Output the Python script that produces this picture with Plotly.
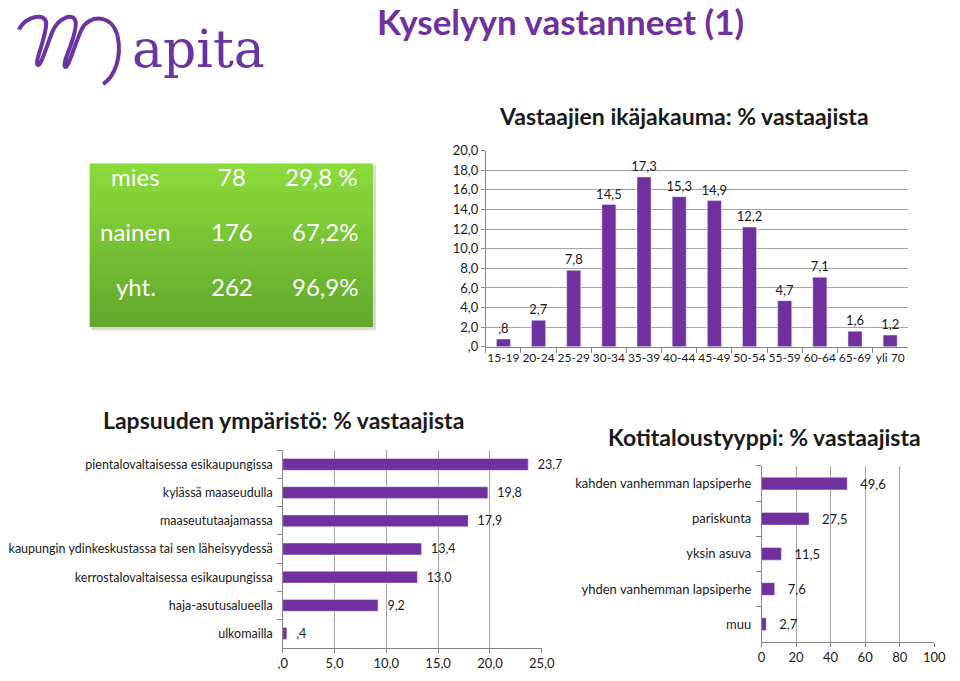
import plotly.graph_objects as go

W, H = 960, 681
def px(x): return x / W
def py(y): return 1 - y / H

# ---------------- data ----------------
age_groups = ["15-19", "20-24", "25-29", "30-34", "35-39", "40-44", "45-49",
              "50-54", "55-59", "60-64", "65-69", "yli 70"]
age_pct = [0.8, 2.7, 7.8, 14.5, 17.3, 15.3, 14.9, 12.2, 4.7, 7.1, 1.6, 1.2]
age_ticks = [0, 2, 4, 6, 8, 10, 12, 14, 16, 18, 20]

childhood_env = ["pientalovaltaisessa esikaupungissa", "kylässä maaseudulla",
                 "maaseututaajamassa", "kaupungin ydinkeskustassa tai sen läheisyydessä",
                 "kerrostalovaltaisessa esikaupungissa", "haja-asutusalueella", "ulkomailla"]
childhood_pct = [23.7, 19.8, 17.9, 13.4, 13.0, 9.2, 0.4]
childhood_ticks = [0, 5, 10, 15, 20, 25]

household_type = ["kahden vanhemman lapsiperhe", "pariskunta", "yksin asuva",
                  "yhden vanhemman lapsiperhe", "muu"]
household_pct = [49.6, 27.5, 11.5, 7.6, 2.7]
household_ticks = [0, 20, 40, 60, 80, 100]

gender_rows = ["mies", "nainen", "yht."]
gender_counts = ["78", "176", "262"]
gender_share = ["29,8 %", "67,2%", "96,9%"]


def fi(v):
    s = f"{v:.1f}".replace(".", ",")
    if s.startswith("0"):
        s = s[1:]
    return s


PURPLE = "#7030A0"
GRID = "#A6A6A6"
AXIS = "#868686"
TXT = "#1a1a1a"
FONT = "Lato"

fig = go.Figure()

# green box (gradient) on its own hidden axes
fig.add_trace(go.Scatter(
    x=[0, 1, 1, 0, 0], y=[0, 0, 1, 1, 0], mode="lines", fill="toself",
    line=dict(width=0),
    fillgradient=dict(type="vertical", colorscale=[[0, "#63A72C"], [1, "#8CDC3C"]]),
    xaxis="x4", yaxis="y4", hoverinfo="skip", showlegend=False))

# age chart
fig.add_trace(go.Bar(
    x=age_groups, y=age_pct, marker_color=PURPLE, width=0.4,
    text=[fi(v) for v in age_pct], textposition="outside", constraintext="none",
    textfont=dict(family=FONT, size=13, color=TXT), cliponaxis=False,
    xaxis="x", yaxis="y", showlegend=False))

# childhood environment chart
fig.add_trace(go.Bar(
    y=childhood_env, x=childhood_pct, orientation="h", marker_color=PURPLE, width=0.42,
    text=[fi(v) for v in childhood_pct], texttemplate="\u00a0\u00a0%{text}",
    textposition="outside", constraintext="none",
    textfont=dict(family=FONT, size=12.5, color=TXT),
    cliponaxis=False, xaxis="x2", yaxis="y2", showlegend=False))

# household chart
fig.add_trace(go.Bar(
    y=household_type, x=household_pct, orientation="h", marker_color=PURPLE, width=0.36,
    text=[fi(v) for v in household_pct], texttemplate="\u00a0\u00a0\u00a0%{text}",
    textposition="outside", constraintext="none",
    textfont=dict(family=FONT, size=13, color=TXT),
    cliponaxis=False, xaxis="x3", yaxis="y3", showlegend=False))

tickfont = dict(family=FONT, size=13, color=TXT)

layout = dict(
    width=W, height=H, margin=dict(l=0, r=0, t=0, b=0),
    paper_bgcolor="white", plot_bgcolor="rgba(0,0,0,0)",
    font=dict(family=FONT, color=TXT),
    # top chart
    xaxis=dict(domain=[px(490), px(920)], anchor="y", type="category",
               showline=True, linecolor=AXIS, linewidth=1, ticks="outside",
               tickson="boundaries", ticklen=5, tickcolor=AXIS, showgrid=False,
               tickangle=0, tickfont=dict(family=FONT, size=12, color=TXT),
               fixedrange=True),
    yaxis=dict(domain=[py(347), py(146)], anchor="x", range=[0, 20],
               tickvals=age_ticks, ticktext=[fi(v) for v in age_ticks],
               showline=True, linecolor=AXIS, ticks="outside", ticklen=4,
               tickcolor=AXIS, showgrid=True, gridcolor=GRID, gridwidth=1,
               zeroline=False, tickfont=tickfont),
    # childhood chart
    xaxis2=dict(domain=[px(283), px(547)], anchor="y2", range=[0, 25],
                tickvals=childhood_ticks, ticktext=[fi(v) for v in childhood_ticks],
                showline=True, linecolor=AXIS, ticks="outside", ticklen=4,
                tickcolor=AXIS, showgrid=True, gridcolor=GRID, zeroline=False,
                tickangle=0, tickfont=tickfont),
    yaxis2=dict(domain=[py(655), py(453)], anchor="x2", type="category",
                autorange="reversed", showline=True, linecolor=AXIS,
                ticks="outside", tickson="boundaries", ticklen=5, tickcolor=AXIS,
                showgrid=False, tickfont=dict(family=FONT, size=12.5, color=TXT),
                ticksuffix="\u00a0\u00a0"),
    # household chart
    xaxis3=dict(domain=[px(771), px(947)], anchor="y3", range=[0, 100],
                tickvals=household_ticks, ticktext=[str(v) for v in household_ticks],
                showline=True, linecolor=AXIS, ticks="outside", ticklen=4,
                tickcolor=AXIS, showgrid=True, gridcolor=GRID, zeroline=False,
                tickangle=0, tickfont=tickfont),
    yaxis3=dict(domain=[py(649), py(469)], anchor="x3", type="category",
                autorange="reversed", showline=True, linecolor=AXIS,
                ticks="outside", tickson="boundaries", ticklen=5, tickcolor=AXIS,
                showgrid=False, tickfont=dict(family=FONT, size=13, color=TXT),
                ticksuffix="\u00a0\u00a0"),
    # green box axes
    xaxis4=dict(domain=[px(86), px(375)], anchor="y4", range=[0, 1], visible=False,
                fixedrange=True),
    yaxis4=dict(domain=[py(327), py(159)], anchor="x4", range=[0, 1], visible=False,
                fixedrange=True),
    bargap=0.6,
)
fig.update_layout(**layout)


def A(text, x, y, size, color=TXT, family=FONT, xanchor="center"):
    return dict(text=text, x=px(x), y=py(y), xref="paper", yref="paper",
                xanchor=xanchor, yanchor="middle", showarrow=False,
                font=dict(family=family, size=size, color=color))


ann = []
ann.append(A("<b>Kyselyyn vastanneet (1)</b>", 566, 13, 35, PURPLE))
ann.append(A("apita", 127, 42, 52, "#6A35A0", "DejaVu Serif", "left"))
ann.append(A("<b>Vastaajien ikäjakauma: % vastaajista</b>", 692, 111, 23))
ann.append(A("<b>Lapsuuden ympäristö: % vastaajista</b>", 284, 422, 23))
ann.append(A("<b>Kotitaloustyyppi: % vastaajista</b>", 774, 439, 23))
row_y = [173, 229, 285]
for i in range(len(gender_rows)):
    ann.append(A(gender_rows[i], 133, row_y[i], 24, "white"))
    ann.append(A(gender_counts[i], 231, row_y[i], 24, "white"))
    ann.append(A(gender_share[i], 362, row_y[i], 24, "white", xanchor="right"))
fig.update_layout(annotations=ann)

# logo swirl "M" (pixel coordinates -> paper)
pts = [(14, 22), (22, 8), (42, 4), (42, 16), (42, 30), (30, 55), (33, 58),
       (36, 62), (42, 40), (48, 25), (54, 10), (70, 4), (72, 14),
       (74, 28), (58, 55), (61, 60), (64, 64), (70, 40), (78, 22),
       (86, 6), (110, 6), (115, 30), (119, 50), (112, 70), (100, 78)]
def P(p): return f"{px(p[0]):.5f},{py(p[1]):.5f}"
path = "M " + P(pts[0])
for k in range(1, len(pts), 3):
    path += " C " + " ".join(P(q) for q in pts[k:k + 3])
shapes = [
    dict(type="rect", xref="paper", yref="paper", x0=px(88), x1=px(378),
         y0=py(330), y1=py(161), fillcolor="#D9D9D9", line=dict(width=0), layer="below"),
    dict(type="path", xref="paper", yref="paper", path=path,
         line=dict(color="#6A35A0", width=4)),
]
fig.update_layout(shapes=shapes)

fig.write_html("out.html", config={"displayModeBar": False},
               post_script="document.body.style.margin='0';document.body.style.overflow='hidden';")
